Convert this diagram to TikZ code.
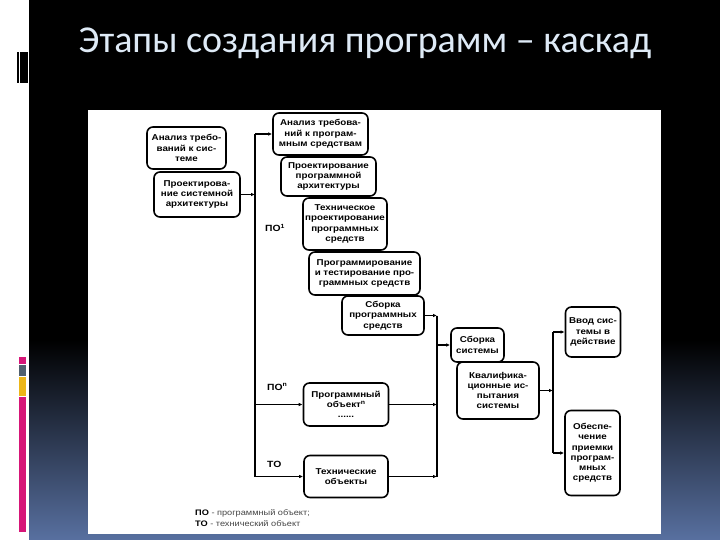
\documentclass[tikz,border=0pt]{standalone}
\usepackage{fontspec}
\setmainfont{Liberation Sans}
\newfontfamily\titlefont{Carlito}
\newfontfamily\diagfam[FakeStretch=1.15]{Liberation Sans}
\usetikzlibrary{arrows.meta}
\definecolor{titlecol}{RGB}{222,234,246}
\definecolor{slideblue}{RGB}{88,112,160}
\definecolor{decpink}{RGB}{214,22,120}
\definecolor{decgray}{RGB}{80,96,110}
\definecolor{decyellow}{RGB}{236,182,24}
\definecolor{leggray}{RGB}{70,70,70}
\newcommand{\diagfont}{\diagfam\fontsize{8.5}{10.3}\selectfont\bfseries}
\newcommand{\mysup}[1]{\raisebox{0.8ex}{\fontsize{6}{6}\selectfont #1}}
\tikzset{
  box/.style={draw, line width=1.6pt, rounded corners=6pt, fill=white, align=center, inner sep=1pt, font=\diagfont},
  conn/.style={line width=1.2pt},
  arr/.style={line width=1.2pt, -{Latex[length=4pt,width=3.5pt]}},
  lbl/.style={font=\diagfam\fontsize{9}{10}\selectfont\bfseries, inner sep=0pt}
}
\begin{document}
\begin{tikzpicture}[x=1pt,y=-1pt]
\useasboundingbox (0,0) rectangle (720,540);
% background
\fill[white] (0,0) rectangle (720,540);
\fill[black] (29,0) rectangle (720,341);
\shade[top color=black, bottom color=slideblue] (29,340) rectangle (720,540);
% left decorations
\fill[black] (17,52) rectangle (28,83);
\draw[white, line width=0.6pt] (19.5,52) -- (19.5,83);
\fill[decpink] (19,357) rectangle (26,364);
\fill[decgray] (19,365) rectangle (26,376);
\fill[decyellow] (19,377) rectangle (26,396);
\fill[decpink] (19,397) rectangle (26,532);
% title
\node[text=titlecol, font=\titlefont\fontsize{38}{42}\selectfont, anchor=base, inner sep=0pt] (title) at (365,53) {Этапы создания программ – каскад};
% picture area
\fill[white] (88,110) rectangle (661,534);
% boxes
\node[box, minimum width=79pt, minimum height=42pt] (n1) at (186.5,148) {Анализ требо-\\ваний к сис-\\теме};
\node[box, minimum width=86pt, minimum height=45pt] (n2) at (197,194.5) {Проектирова-\\ние системной\\архитектуры};
\node[box, minimum width=95pt, minimum height=42pt] (n3) at (320.5,134) {Анализ требова-\\ний к програм-\\мным средствам};
\node[box, minimum width=95pt, minimum height=39pt] (n4) at (328.5,176.5) {Проектирование\\программной\\архитектуры};
\node[box, minimum width=84pt, minimum height=52pt] (n5) at (345,224) {Техническое\\проектирование\\программных\\средств};
\node[box, minimum width=111pt, minimum height=43pt] (n6) at (364.5,273.5) {Программирование\\и тестирование про-\\граммных средств};
\node[box, minimum width=82pt, minimum height=39pt] (n7) at (383,315.5) {Сборка\\программных\\средств};
\node[box, minimum width=53pt, minimum height=34pt] (n8) at (477.5,345) {Сборка\\системы};
\node[box, minimum width=82pt, minimum height=57pt] (n9) at (498,390.5) {Квалифика-\\ционные ис-\\пытания\\системы};
\node[box, minimum width=55pt, minimum height=50pt] (n10) at (593,332) {Ввод сис-\\темы в\\действие};
\node[box, minimum width=55pt, minimum height=85pt] (n11) at (592.5,453) {Обеспе-\\чение\\приемки\\програм-\\мных\\средств};
\node[box, minimum width=85pt, minimum height=43pt] (n12) at (346,404.5) {Программный\\объект\mysup{n}\\......};
\node[box, minimum width=84pt, minimum height=42pt] (n13) at (346,476.5) {Технические\\объекты};
% labels
\node[lbl, anchor=west] (l1) at (265,228) {ПО\mysup{1}};
\node[lbl, anchor=west] (l2) at (267,387) {ПО\mysup{n}};
\node[lbl, anchor=west] (l3) at (267,464) {ТО};
% legend
\node[anchor=west, inner sep=0pt, text=leggray, font=\diagfam\fontsize{8}{9}\selectfont] (leg1) at (195,513) {\textcolor{black}{\textbf{ПО}} - программный объект;};
\node[anchor=west, inner sep=0pt, text=leggray, font=\diagfam\fontsize{8}{9}\selectfont] (leg2) at (195,524) {\textcolor{black}{\textbf{ТО}} - технический объект};
% left bus
\coordinate (a1) at (255,134);
\coordinate (a2) at (255,476.5);
\draw[conn] (a1) -- (a2);
\draw[arr] (a1) -- (n3.west);
\draw[arr] (n2.east) -- (n2.east -| a1);
\draw[arr] (a2 |- n12.west) -- (n12.west);
\draw[arr] (a2) -- (n13.west);
% middle bus
\coordinate (b1) at (437,315.5);
\coordinate (b2) at (437,476.5);
\draw[conn] (b1) -- (b2);
\draw[arr] (n7.east) -- (b1);
\draw[arr] (b1 |- n8.west) -- (n8.west);
\draw[arr] (n12.east) -- (n12.east -| b1);
\draw[arr] (n13.east) -- (b2);
% right bus
\coordinate (c1) at (553,332);
\coordinate (c2) at (553,453);
\draw[conn] (c1) -- (c2);
\draw[arr] (n9.east) -- (n9.east -| c1);
\draw[arr] (c1) -- (n10.west);
\draw[arr] (c2) -- (n11.west);
\end{tikzpicture}
\end{document}
